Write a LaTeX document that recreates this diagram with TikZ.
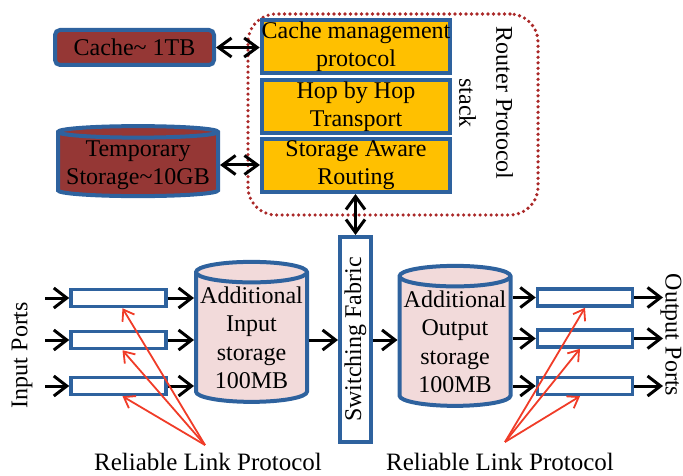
\documentclass[tikz,border=0pt]{standalone}
\usepackage{fontspec}
\setmainfont{Liberation Serif}
\usetikzlibrary{shapes.geometric,arrows.meta}

\begin{document}
\begin{tikzpicture}[
        x=1pt, y=-1pt, % one unit is one pixel of the sketch
        font=\fontsize{24}{28}\selectfont,
        blk/.style={draw=boxblue, line width=4pt, align=center, inner sep=0pt},
        stackbox/.style={blk, fill=gold, minimum width=188, minimum height=53},
        memory/.style={blk, fill=memred},
        drum/.style={blk, fill=drumpink, cylinder, shape border rotate=90,
            aspect=0.2, minimum width=111, minimum height=140},
        bufbox/.style={draw=boxblue, line width=3.5pt, fill=white, minimum width=95, minimum height=17, inner sep=0pt},
        flow/.style={line width=3pt, -{Straight Barb[length=13pt,width=20pt]}},
        both/.style={line width=3pt, {Straight Barb[length=13pt,width=19pt]}-{Straight Barb[length=13pt,width=19pt]}},
        hint/.style={draw=linkred, line width=1.8pt, -{Straight Barb[length=10pt,width=14pt]}}
        ]

        % 1. Colours of the sketch
        \definecolor{boxblue}{RGB}{46,98,158}
        \definecolor{gold}{RGB}{255,192,0}
        \definecolor{memred}{RGB}{149,55,53}
        \definecolor{drumpink}{RGB}{242,218,218}
        \definecolor{dotred}{RGB}{170,40,40}
        \definecolor{linkred}{RGB}{240,60,40}

        \useasboundingbox (0,0) rectangle (683,476);

        % 2. Router protocol stack (top)
        \node[draw=dotred, line width=3.6pt, dash pattern=on 0pt off 5.5pt, line cap=round, rounded corners=28,
            minimum width=290, minimum height=201] (frame) at (393,114.5) {};
        \node[stackbox] (cmp) at (356,46.5) {Cache management\\protocol};
        \node[stackbox] (hop) at (356,106.5) {Hop by Hop\\Transport};
        \node[stackbox] (sar) at (356,165.5) {Storage Aware\\Routing};
        \node[rotate=-90, align=center, font=\fontsize{24}{37}\selectfont] (rps) at (486,103) {Router Protocol\\stack};

        % Storage beside the stack
        \node[memory, rounded corners=5, minimum width=159, minimum height=35] (cache) at (134.5,47.5) {Cache\textasciitilde\ 1TB};
        \node[memory, cylinder, shape border rotate=90, aspect=0.08,
            minimum width=160, minimum height=70] (temp) at (138,165) {Temporary\\Storage\textasciitilde10GB};

        \draw[both] (cache.east) -- (cache.east -| cmp.west);
        \draw[both] (temp.east) -- (temp.east -| sar.west);

        % 3. Switching fabric and the two storages
        \node[blk, fill=white, minimum width=31, minimum height=205] (sw) at (355.5,339.5) {};
        \node[rotate=90] (swl) at (sw) {Switching Fabric};
        \draw[both] (sar.south -| sw) -- (sw.north);

        \node[drum, font=\fontsize{24}{28.5}\selectfont] (inst) at (251.5,338) {Additional\\Input\\storage\\100MB};
        \node[drum, font=\fontsize{24}{28.5}\selectfont] (outst) at (455,342) {Additional\\Output\\storage\\100MB};

        \draw[flow] (inst.east |- 0,340) -- (sw.west |- 0,340);
        \draw[flow] (sw.east |- 0,340) -- (outst.west |- 0,340);

        % 4. Input and output port buffers
        \foreach \i/\yi/\yo in {1/298/297.5, 2/340/338.5, 3/386/386} {
            \node[bufbox] (in\i) at (118.5,\yi) {};
            \node[bufbox] (out\i) at (585,\yo) {};
            \coordinate (src\i) at (45,\yi);
            \coordinate (dst\i) at (663,\yo);
            \draw[flow] (src\i) -- (in\i.west);
            \draw[flow] (in\i.east) -- (in\i.east -| inst.west);
            \draw[flow] (out\i.west -| outst.east) -- (out\i.west);
            \draw[flow] (out\i.east) -- (dst\i);
        }

        \node[rotate=90] (inp) at (22,355) {Input Ports};
        \node[rotate=-90] (outp) at (671,335) {Output Ports};

        % 5. Reliable link protocol hints
        \node[font=\fontsize{25}{28}\selectfont] (rl1) at (208,462) {Reliable Link Protocol};
        \node[font=\fontsize{25}{28}\selectfont] (rl2) at (500,462) {Reliable Link Protocol};
        \coordinate (rl1tip) at (205,445);
        \coordinate (rl2tip) at (505,442);
        \draw[hint] (rl1tip) -- ([xshift=4]in1.south);
        \draw[hint] (rl1tip) -- ([xshift=4]in2.south);
        \draw[hint] (rl1tip) -- ([xshift=4]in3.south);
        \draw[hint] (rl2tip) -- (out1.south);
        \draw[hint] (rl2tip) -- ([xshift=-5]out2.south);
        \draw[hint] (rl2tip) -- ([xshift=-5]out3.south);
    \end{tikzpicture}
\end{document}
